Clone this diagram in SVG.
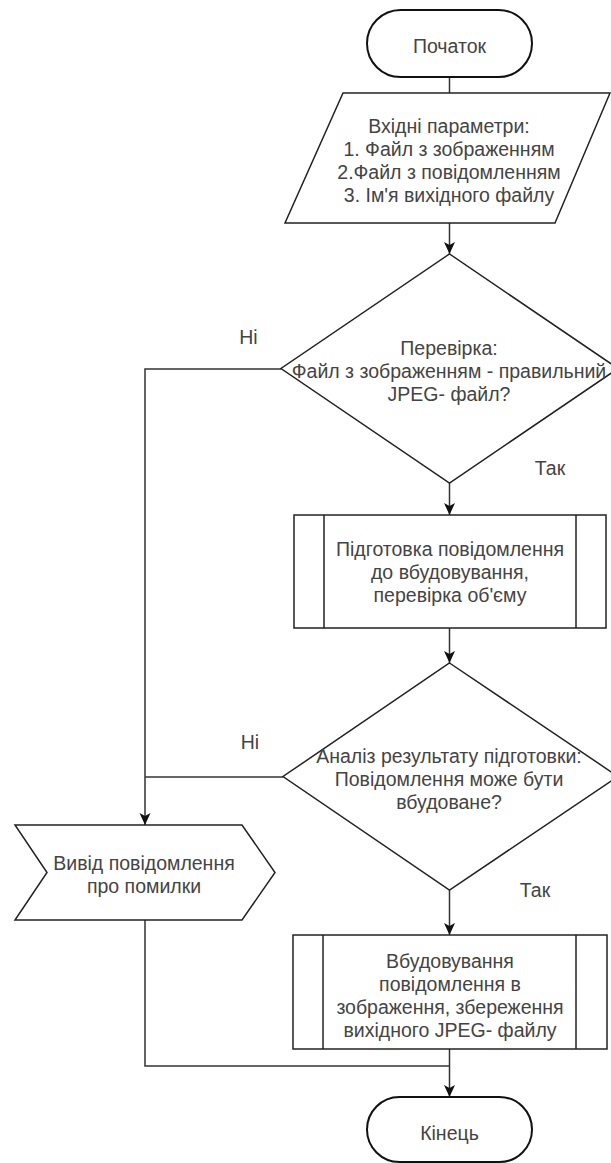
<svg xmlns="http://www.w3.org/2000/svg" width="611" height="1163" viewBox="0 0 611 1163">
  <style>
    .shape { fill: #ffffff; stroke: #222222; stroke-width: 1.5; }
    .term { fill: #ffffff; stroke: #111111; stroke-width: 2; }
    .edge { fill: none; stroke: #333333; stroke-width: 1.5; }
    text { font-family: "Liberation Sans", Arial, sans-serif; font-size: 19.5px; fill: #444444; text-anchor: middle; }
  </style>
  <defs>
    <marker id="arrow" markerUnits="userSpaceOnUse" markerWidth="14" markerHeight="12" viewBox="-13 -6 14 12" refX="0" refY="0" orient="auto">
      <path d="M0,0 L-12,-5.5 L-9,0 L-12,5.5 Z" fill="#111111"/>
    </marker>
  </defs>

  <rect width="611" height="1163" fill="#ffffff"/>

  <!-- connectors -->
  <g id="connectors">
    <line class="edge" x1="449.5" y1="77" x2="449.5" y2="93"/>
    <line class="edge" x1="449.5" y1="223" x2="449.5" y2="254" marker-end="url(#arrow)"/>
    <line class="edge" x1="449.5" y1="483" x2="449.5" y2="515" marker-end="url(#arrow)"/>
    <line class="edge" x1="449.5" y1="628" x2="449.5" y2="663" marker-end="url(#arrow)"/>
    <line class="edge" x1="449.5" y1="890" x2="449.5" y2="935" marker-end="url(#arrow)"/>
    <line class="edge" x1="449.5" y1="1049" x2="449.5" y2="1097" marker-end="url(#arrow)"/>
    <polyline class="edge" points="281,369 145,369 145,825" marker-end="url(#arrow)"/>
    <polyline class="edge" points="283,777 145,777"/>
    <polyline class="edge" points="145,920 145,1066 449.5,1066"/>
    <text x="248.5" y="344">Ні</text>
    <text x="550" y="475">Так</text>
    <text x="250" y="749">Ні</text>
    <text x="535" y="897">Так</text>
  </g>

  <!-- start terminal -->
  <g id="start">
    <rect class="term" x="367" y="10" width="165" height="67" rx="33.5" ry="33.5"/>
    <text x="449.5" y="53">Початок</text>
  </g>

  <!-- input data -->
  <g id="input">
    <polygon class="shape" points="343,93 610,93 555,223 285,223"/>
    <text x="449" y="133">Вхідні параметри:</text>
    <text x="449" y="156">1. Файл з зображенням</text>
    <text x="449" y="179">2.Файл з повідомленням</text>
    <text x="449" y="202">3. Ім'я вихідного файлу</text>
  </g>

  <!-- JPEG check -->
  <g id="check-jpeg">
    <polygon class="shape" points="449.5,254 618,368.5 449.5,483 281,368.5"/>
    <text x="449" y="355">Перевірка:</text>
    <text x="449" y="378">Файл з зображенням - правильний</text>
    <text x="449" y="401">JPEG- файл?</text>
  </g>

  <!-- message preparation -->
  <g id="prepare">
    <rect class="shape" x="294" y="515" width="312" height="113"/>
    <line class="shape" x1="324" y1="515" x2="324" y2="628"/>
    <line class="shape" x1="576" y1="515" x2="576" y2="628"/>
    <text x="450" y="556">Підготовка повідомлення</text>
    <text x="450" y="579">до вбудовування,</text>
    <text x="450" y="602">перевірка об'єму</text>
  </g>

  <!-- preparation result -->
  <g id="check-result">
    <polygon class="shape" points="449.5,663 618,776.5 449.5,890 283,776.5"/>
    <text x="449" y="763">Аналіз результату підготовки:</text>
    <text x="449" y="786">Повідомлення може бути</text>
    <text x="449" y="809">вбудоване?</text>
  </g>

  <!-- error output -->
  <g id="error-output">
    <polygon class="shape" points="15,825 242,825 275,872.5 242,920 15,920 47,872.5"/>
    <text x="144" y="870">Вивід повідомлення</text>
    <text x="144" y="893">про помилки</text>
  </g>

  <!-- embedding -->
  <g id="embed">
    <rect class="shape" x="293" y="935" width="314" height="114"/>
    <line class="shape" x1="323" y1="935" x2="323" y2="1049"/>
    <line class="shape" x1="576" y1="935" x2="576" y2="1049"/>
    <text x="450" y="968">Вбудовування</text>
    <text x="450" y="991">повідомлення в</text>
    <text x="450" y="1014">зображення, збереження</text>
    <text x="450" y="1037">вихідного JPEG- файлу</text>
  </g>

  <!-- end terminal -->
  <g id="end">
    <rect class="term" x="367" y="1097" width="165" height="65" rx="32.5" ry="32.5"/>
    <text x="449.5" y="1140">Кінець</text>
  </g>
</svg>
